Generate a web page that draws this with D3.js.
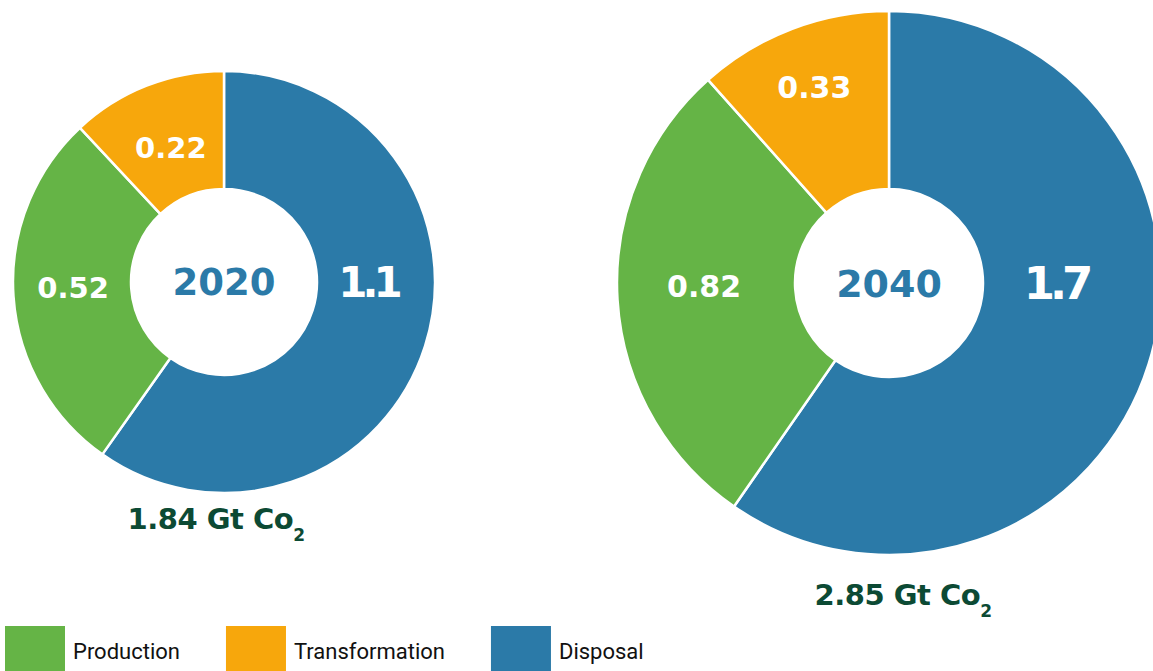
<!DOCTYPE html>
<html>
<head>
<meta charset="utf-8">
<script src="https://cdn.jsdelivr.net/npm/d3@7/dist/d3.min.js"></script>
<style>
  html, body { margin: 0; padding: 0; background: #ffffff; }
  svg { display: block; }
  .num { font-family: "DejaVu Sans", sans-serif; font-weight: bold; }
  .legend text { font-family: Roboto, sans-serif; }
</style>
</head>
<body>
<svg id="chart" width="1153" height="671"></svg>
<script>
// Emission sources (Gt CO2) by stage, per year
const categories = ["Production", "Transformation", "Disposal"];
const years = ["2020", "2040"];
const values2020 = [0.52, 0.22, 1.1];
const values2040 = [0.82, 0.33, 1.7];
// slices are drawn clockwise from 12 o'clock in this order
const sliceOrder = ["Disposal", "Production", "Transformation"];

const colors = d3.scaleOrdinal()
  .domain(categories)
  .range(["#65b446", "#f7a70c", "#2b7aa8"]);

// Ring geometry and label placement for each year
// (labelAngle in degrees clockwise from 12 o'clock; null = slice mid-angle)
const layouts = [
  { cx: 224, cy: 282, outer: 211, inner: 93,
    labelR: { Production: 151, Transformation: 145, Disposal: 144 },
    labelAngle: { Production: 268, Transformation: null, Disposal: 90 },
    labelSize: { Production: 29, Transformation: 29, Disposal: 42 }, yearSize: 37,
    totalX: 216, totalY: 529 },
  { cx: 889, cy: 283, outer: 272, inner: 94,
    labelR: { Production: 185, Transformation: 210, Disposal: 167 },
    labelAngle: { Production: 269, Transformation: null, Disposal: 90 },
    labelSize: { Production: 30, Transformation: 30, Disposal: 45 }, yearSize: 38,
    totalX: 903, totalY: 605 }
];

const svg = d3.select("#chart");
const pie = d3.pie().sort(null).value(d => d.value);

[values2020, values2040].forEach((vals, i) => {
  const L = layouts[i];
  const rows = sliceOrder.map(c => ({ cat: c, value: vals[categories.indexOf(c)] }));
  const arcs = pie(rows);
  const arc = d3.arc().innerRadius(L.inner).outerRadius(L.outer);
  const g = svg.append("g").attr("transform", `translate(${L.cx},${L.cy})`);

  g.selectAll("path.slice")
    .data(arcs)
    .join("path")
    .attr("class", "slice")
    .attr("d", arc)
    .attr("fill", d => colors(d.data.cat))
    .attr("stroke", "#ffffff")
    .attr("stroke-width", 2.5)
    .attr("stroke-linejoin", "round");

  const angleOf = d => {
    const a = L.labelAngle[d.data.cat];
    return a === null ? (d.startAngle + d.endAngle) / 2 : a * Math.PI / 180;
  };

  g.selectAll("text.val")
    .data(arcs)
    .join("text")
    .attr("class", "val num")
    .attr("text-anchor", "middle")
    .attr("dy", "0.36em")
    .attr("fill", "#ffffff")
    .attr("font-size", d => L.labelSize[d.data.cat])
    .attr("letter-spacing", d => d.data.cat === "Disposal" ? "-5px" : "0px")
    .attr("x", d => L.labelR[d.data.cat] * Math.sin(angleOf(d)))
    .attr("y", d => -L.labelR[d.data.cat] * Math.cos(angleOf(d)))
    .text(d => String(d.data.value));

  g.append("text")
    .attr("class", "num")
    .attr("text-anchor", "middle")
    .attr("dy", "0.36em")
    .attr("fill", "#2b7aa8")
    .attr("font-size", L.yearSize)
    .text(years[i]);

  const total = d3.sum(vals);
  const t = svg.append("text")
    .attr("class", "num")
    .attr("x", L.totalX)
    .attr("y", L.totalY)
    .attr("text-anchor", "middle")
    .attr("fill", "#0c4a34")
    .attr("font-size", 29)
    .attr("letter-spacing", "-0.5px");
  t.append("tspan").text(`${d3.format(".2f")(total)} Gt Co`);
  t.append("tspan").attr("font-size", 17).attr("dy", 12).text("2");
});

// Legend along the bottom edge
const legend = svg.append("g").attr("class", "legend").attr("transform", "translate(5,626)");
let lx = 0;
categories.forEach(c => {
  const item = legend.append("g").attr("transform", `translate(${lx},0)`);
  item.append("rect").attr("width", 60).attr("height", 50).attr("fill", colors(c));
  const tx = item.append("text")
    .attr("x", 68)
    .attr("y", 33)
    .attr("font-size", 22)
    .attr("fill", "#111111")
    .text(c);
  lx += 68 + tx.node().getComputedTextLength() + 46;
});
</script>
</body>
</html>
